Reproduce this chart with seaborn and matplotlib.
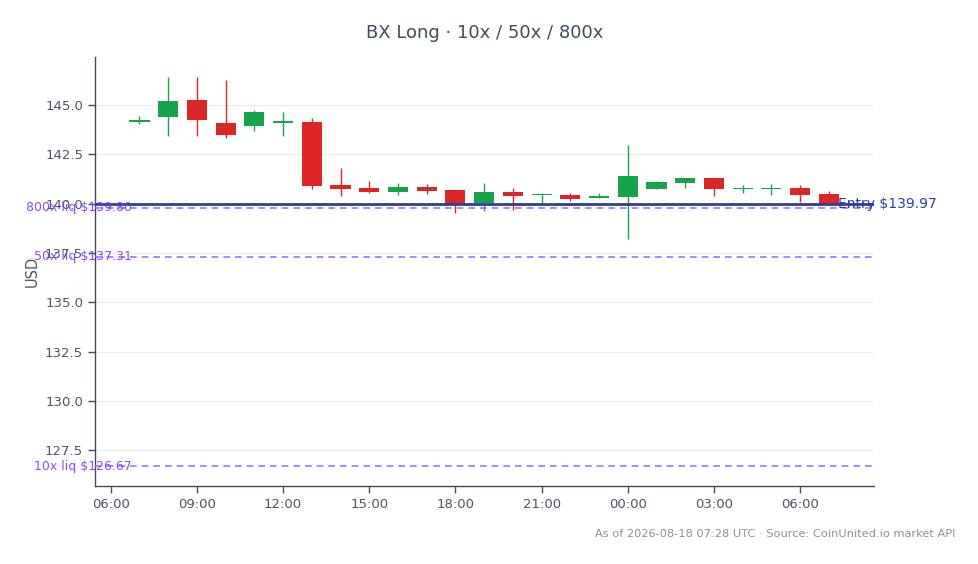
import numpy as np
import pandas as pd
import seaborn as sns
import matplotlib
matplotlib.use("Agg")
import matplotlib.pyplot as plt
import matplotlib.dates as mdates
import matplotlib.transforms as mtransforms

# hourly candles, 2026-08-17 07:00 -> 2026-08-18 07:00 UTC
times = pd.date_range("2026-08-17 07:00", periods=25, freq="h")
opens = [144.12, 144.41, 145.25, 144.09, 143.95, 144.11, 144.14, 140.94, 140.80, 140.60,
         140.84, 140.69, 140.01, 140.60, 140.42, 140.43, 140.30, 140.35, 140.75, 141.06,
         141.30, 140.72, 140.74, 140.77, 140.48]
closes = [144.22, 145.20, 144.24, 143.49, 144.64, 144.13, 140.89, 140.76, 140.60, 140.84,
          140.66, 140.00, 140.58, 140.40, 140.44, 140.25, 140.38, 141.40, 141.09, 141.30,
          140.75, 140.77, 140.76, 140.45, 139.98]
highs = [144.44, 146.44, 146.44, 146.27, 144.75, 144.64, 144.34, 141.80, 141.16, 141.06,
         141.01, 140.69, 141.06, 140.79, 140.55, 140.55, 140.55, 142.97, 141.16, 141.30,
         141.30, 140.93, 140.98, 140.96, 140.62]
lows = [144.02, 143.43, 143.43, 143.34, 143.70, 143.43, 140.76, 140.38, 140.55, 140.45,
        140.50, 139.54, 139.64, 139.67, 140.01, 140.14, 140.30, 138.19, 140.75, 140.79,
        140.38, 140.55, 140.45, 140.08, 139.95]

entry_price = 139.97
liq_labels = ["800x", "50x", "10x"]
liq_prices = [139.80, 137.31, 126.67]

df = pd.DataFrame({"time": times, "open": opens, "close": closes, "high": highs, "low": lows})
df["up"] = df["close"] >= df["open"]

green = "#16a34a"
red = "#dc2626"
blue = "#2b3d9f"
purple = "#8b5cf6"
purple_txt = "#7c3aed"
slate = "#3f4b5e"

sns.set_theme(style="white")
plt.rcParams["font.family"] = ["DejaVu Sans"]

fig = plt.figure(figsize=(9.79, 5.64), dpi=100)
ax = fig.add_axes([0.097, 0.138, 0.796, 0.761])

x = mdates.date2num(df["time"])
colors = np.where(df["up"], green, red)
body_w = 0.7 / 24
bottom = np.minimum(df["open"], df["close"])
height = (df["open"] - df["close"]).abs()
height = np.maximum(height, 0.06)

ax.vlines(x, df["low"], df["high"], colors=colors, linewidth=1, zorder=3)
ax.bar(x, height, bottom=bottom, width=body_w, color=colors, linewidth=0, zorder=4)

# entry and liquidation levels
ax.axhline(entry_price, color=blue, linewidth=2, zorder=5)
trans = mtransforms.blended_transform_factory(ax.transAxes, ax.transData)
ax.text(0.953, entry_price, f"Entry ${entry_price:.2f}", transform=trans, ha="left", va="center",
        color=blue, fontsize=10, zorder=6)
for lab, p in zip(liq_labels, liq_prices):
    ax.axhline(p, color=purple, linewidth=1.2, linestyle=(0, (4, 3)), alpha=0.85, zorder=5)
    ax.text(0.0475, p, f"{lab} liq ${p:.2f}", transform=trans, ha="right", va="center",
            color=purple_txt, fontsize=9, alpha=0.9, zorder=6)

ax.set_xlim(mdates.date2num(pd.Timestamp("2026-08-17 05:27")),
            mdates.date2num(pd.Timestamp("2026-08-18 08:35")))
ax.set_ylim(min(liq_prices) - 1, max(highs) + 1)
ax.set_yticks(np.arange(127.5, 145.1, 2.5))
ax.yaxis.set_major_formatter(plt.FormatStrFormatter("%.1f"))
ax.xaxis.set_major_locator(mdates.HourLocator(byhour=range(0, 24, 3)))
ax.xaxis.set_major_formatter(mdates.DateFormatter("%H:%M"))

ax.grid(axis="y", color="#ececec", linewidth=0.8)
ax.grid(axis="x", visible=False)
ax.set_axisbelow(True)
for s in ["top", "right"]:
    ax.spines[s].set_visible(False)
for s in ["left", "bottom"]:
    ax.spines[s].set_color(slate)
    ax.spines[s].set_linewidth(1)
ax.tick_params(axis="both", colors=slate, labelcolor="#4a5568", labelsize=9.5,
               length=5, width=1, left=True, bottom=True)

ax.set_ylabel("USD", color="#4a5568", fontsize=10.5)
ax.set_title("BX Long · 10x / 50x / 800x", color=slate, fontsize=13, pad=14)
fig.text(0.976, 0.053, "As of 2026-08-18 07:28 UTC · Source: CoinUnited.io market API",
         ha="right", va="center", color="#8a8f98", fontsize=8.2)

fig.savefig("out.png", dpi=100)
